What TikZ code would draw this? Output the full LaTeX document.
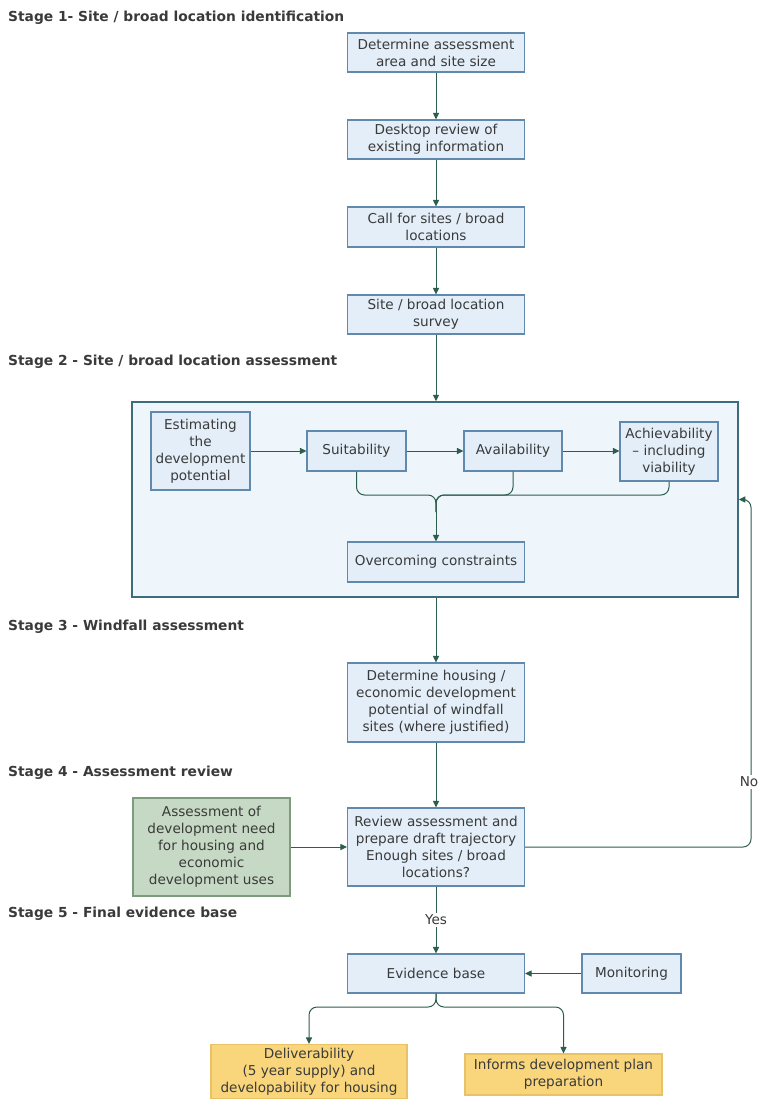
\documentclass[tikz,border=0pt]{standalone}
\usepackage{fontspec}
\setmainfont{DejaVu Sans}
\usetikzlibrary{arrows.meta}
\definecolor{bfill}{HTML}{E3EEF8}
\definecolor{bdraw}{HTML}{5F8AAE}
\definecolor{arr}{HTML}{2C5E4C}
\definecolor{bigfill}{HTML}{EEF5FB}
\definecolor{bigdraw}{HTML}{3B6D7C}
\definecolor{gfill}{HTML}{C6D9C4}
\definecolor{gdraw}{HTML}{7D9C7D}
\definecolor{yfill}{HTML}{F9D67C}
\definecolor{ydraw}{HTML}{E8C264}
\definecolor{txt}{HTML}{3A3A3A}
\begin{document}
\begin{tikzpicture}[x=1pt,y=-1pt,
  box/.style={draw=bdraw, fill=bfill, line width=1.1pt, align=center, inner sep=0pt,
    font=\fontsize{13.6}{17}\selectfont, text=txt},
  gbox/.style={box, draw=gdraw, fill=gfill},
  ybox/.style={box, draw=ydraw, fill=yfill},
  bigbox/.style={draw=bigdraw, fill=bigfill, line width=1.5pt, inner sep=0pt},
  sz/.style 2 args={minimum width=#1pt, minimum height=#2pt},
  stage/.style={anchor=west, font=\bfseries\fontsize{13.8}{16}\selectfont, text=txt, inner sep=0pt},
  conn/.style={draw=arr, line width=1pt},
  arrow/.style={conn, -{Triangle[length=6.5pt,width=6pt]}},
  lbl/.style={fill=white, inner sep=1.5pt, font=\fontsize{13.6}{16}\selectfont, text=txt}
]
\useasboundingbox (0,0) rectangle (759,1099);
\fill[white] (0,0) rectangle (759,1099);

% stage titles
\node[stage] (s1) at (8,18) {Stage 1- Site / broad location identification};
\node[stage] (s2) at (8,362) {Stage 2 - Site / broad location assessment};
\node[stage] (s3) at (8,627) {Stage 3 - Windfall assessment};
\node[stage] (s4) at (8,773) {Stage 4 - Assessment review};
\node[stage] (s5) at (8,914) {Stage 5 - Final evidence base};

% stage 1
\node[box, sz={177}{39}] (b1) at (436,52.5) {Determine assessment\\area and site size};
\node[box, sz={177}{39}] (b2) at (436,139.5) {Desktop review of\\existing information};
\node[box, sz={177}{40}] (b3) at (436,227) {Call for sites / broad\\locations};
\node[box, sz={177}{39}] (b4) at (436,314.5) {Site / broad location\\survey};

% stage 2
\node[bigbox, sz={606}{195}] (assess) at (435,499.5) {};
\node[box, sz={99}{78}] (est) at (200.5,451) {Estimating\\the\\development\\potential};
\node[box, sz={99}{40}] (suit) at (356.5,451) {Suitability};
\node[box, sz={98}{40}] (avail) at (513,451) {Availability};
\node[box, sz={98}{59}] (achv) at (669,451.5) {Achievability\\– including\\viability};
\node[box, sz={177}{40}] (over) at (436,562) {Overcoming constraints};

% stage 3
\node[box, sz={177}{79}] (wind) at (436,702.5) {Determine housing /\\economic development\\potential of windfall\\sites (where justified)};

% stage 4
\node[gbox, sz={157}{98}] (need) at (211.5,847) {Assessment of\\development need\\for housing and\\economic\\development uses};
\node[box, sz={177}{78}] (review) at (436,847) {Review assessment and\\prepare draft trajectory\\Enough sites / broad\\locations?};

% stage 5
\node[box, sz={177}{39}] (evid) at (436,973.5) {Evidence base};
\node[box, sz={99}{39}] (mon) at (631.5,973.5) {Monitoring};
\node[ybox, sz={196}{54}] (deliv) at (309,1071.5) {Deliverability\\(5 year supply) and\\developability for housing};
\node[ybox, sz={197}{41}] (inform) at (563.5,1074.5) {Informs development plan\\preparation};

% connectors stage 1
\draw[arrow] (b1) -- (b2);
\draw[arrow] (b2) -- (b3);
\draw[arrow] (b3) -- (b4);
\draw[arrow] (b4.south) -- (b4.south |- assess.north);

% stage 2 internal
\draw[arrow] (est) -- (suit);
\draw[arrow] (suit) -- (avail);
\draw[arrow] (avail) -- (achv.west |- avail.east);
\coordinate (m1) at (436,495);
\coordinate (m2) at (436,512);
\draw[conn, rounded corners=8pt] (suit.south) |- (m1) -- (m2);
\draw[conn, rounded corners=8pt] (avail.south) |- (m1) -- (m2);
\draw[conn, rounded corners=8pt] (achv.south) |- (m1) -- (m2);
\draw[arrow] (m2) -- (over.north);

% stage 2 -> 3 -> 4
\draw[arrow] (assess.south -| wind.north) -- (wind.north);
\draw[arrow] (wind) -- (review);
\draw[arrow] (need) -- (review);

% No loop
\coordinate (la) at (751,847);
\coordinate (lb) at (751,499.5);
\draw[arrow, rounded corners=8pt] (review.east) -- (la) -- (lb) -- (assess.east);
\node[lbl] (no) at (749,782) {No};

% Yes
\draw[arrow] (review) -- (evid);
\node[lbl] (yes) at (436,920) {Yes};
\draw[arrow] (mon) -- (evid);

% bottom split
\coordinate (sp) at (436,1007);
\draw[arrow, rounded corners=8pt] (evid.south) -- (sp) -| (deliv.north);
\draw[arrow, rounded corners=8pt] (evid.south) -- (sp) -| (inform.north);
\end{tikzpicture}
\end{document}
